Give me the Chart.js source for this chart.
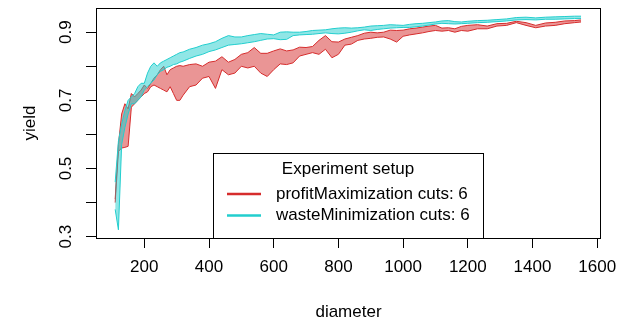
<!DOCTYPE html>
<html>
<head>
<meta charset="utf-8">
<script src="https://cdn.jsdelivr.net/npm/chart.js@4"></script>
<style>
  html, body { margin: 0; padding: 0; background: #fff; }
  #wrap { width: 629px; height: 324px; }
</style>
</head>
<body>
<div id="wrap"><canvas id="myChart" width="629" height="324"></canvas></div>
<script>
const diameter = [110,120,130,140,150,160,170,180,190,200,
  210,220,230,240,250,260,270,280,290,300,
  310,320,340,360,380,400,420,440,460,480,
  500,520,540,560,580,600,620,640,660,680,
  700,720,740,760,780,800,820,840,860,880,
  900,920,940,960,980,1000,1020,1040,1060,1080,
  1100,1120,1140,1160,1180,1200,1230,1260,1290,1320,
  1350,1380,1410,1440,1470,1500,1530,1550];

const wasteLow = [0.38,0.32,0.57,0.62,0.66,0.69,0.69,0.70,0.71,0.73,
  0.74,0.75,0.76,0.775,0.785,0.79,0.797,0.80,0.805,0.807,
  0.812,0.815,0.823,0.83,0.835,0.843,0.848,0.855,0.862,0.864,
  0.866,0.869,0.872,0.876,0.88,0.881,0.878,0.879,0.89,0.892,
  0.893,0.894,0.896,0.898,0.896,0.895,0.897,0.90,0.904,0.907,
  0.905,0.908,0.91,0.912,0.913,0.914,0.914,0.916,0.918,0.921,
  0.924,0.926,0.925,0.924,0.925,0.926,0.928,0.929,0.931,0.933,
  0.936,0.937,0.936,0.938,0.938,0.939,0.94,0.94];

const wasteHigh = [0.46,0.58,0.63,0.67,0.70,0.71,0.72,0.74,0.75,0.75,
  0.78,0.80,0.81,0.80,0.81,0.815,0.82,0.825,0.83,0.835,
  0.84,0.842,0.85,0.855,0.862,0.866,0.872,0.882,0.89,0.886,
  0.886,0.89,0.893,0.896,0.894,0.892,0.90,0.901,0.90,0.90,
  0.902,0.905,0.906,0.907,0.91,0.912,0.913,0.912,0.913,0.915,
  0.918,0.919,0.92,0.922,0.921,0.92,0.923,0.925,0.926,0.928,
  0.93,0.933,0.934,0.931,0.93,0.932,0.934,0.935,0.937,0.939,
  0.943,0.944,0.942,0.944,0.945,0.946,0.947,0.947];

const profitLow = [0.40,0.55,0.56,0.562,0.565,0.68,0.69,0.70,0.71,0.72,
  0.725,0.74,0.745,0.74,0.735,0.73,0.725,0.74,0.72,0.70,
  0.70,0.715,0.74,0.745,0.765,0.77,0.735,0.79,0.775,0.78,
  0.80,0.795,0.80,0.78,0.77,0.79,0.807,0.805,0.81,0.83,
  0.835,0.84,0.835,0.85,0.825,0.835,0.862,0.865,0.876,0.88,
  0.882,0.885,0.886,0.88,0.871,0.888,0.892,0.895,0.898,0.902,
  0.905,0.903,0.905,0.90,0.905,0.903,0.91,0.91,0.918,0.92,
  0.928,0.92,0.913,0.918,0.92,0.925,0.928,0.93];

const profitHigh = [0.41,0.57,0.66,0.69,0.675,0.72,0.71,0.72,0.73,0.745,
  0.735,0.75,0.765,0.775,0.79,0.80,0.775,0.79,0.795,0.80,
  0.802,0.80,0.805,0.807,0.80,0.812,0.815,0.828,0.812,0.82,
  0.835,0.84,0.855,0.838,0.838,0.845,0.851,0.845,0.848,0.856,
  0.855,0.858,0.876,0.89,0.872,0.871,0.88,0.885,0.89,0.897,
  0.90,0.898,0.90,0.906,0.905,0.906,0.91,0.912,0.915,0.918,
  0.92,0.912,0.913,0.91,0.917,0.92,0.922,0.918,0.925,0.926,
  0.932,0.928,0.92,0.927,0.929,0.933,0.934,0.936];

const xTicks = [200,400,600,800,1000,1200,1400,1600];
const yTicks = [0.3,0.4,0.5,0.6,0.7,0.8,0.9];
const yLabels = [0.3,0.5,0.7,0.9];

const legendTitle = "Experiment setup";
const seriesNames = ["profitMaximization cuts: 6", "wasteMinimization cuts: 6"];

const red = "rgb(214,44,44)";
const redFill = "rgba(214,44,44,0.5)";
const cyan = "rgb(34,206,206)";
const cyanFill = "rgba(34,206,206,0.5)";
const FONT = '"Liberation Sans", Arial, sans-serif';

const ctx = document.getElementById("myChart");

function pts(arr) {
  return diameter.map((d, i) => ({ x: d, y: arr[i] }));
}

function linea(label, arr, color, fillColor) {
  return {
    label: label,
    data: pts(arr),
    borderColor: color,
    backgroundColor: fillColor || color,
    borderWidth: 1,
    pointRadius: 0,
    tension: 0,
    fill: fillColor ? "-1" : false,
  };
}

// ejes al estilo R: caja, etiquetas rotadas, titulos y leyenda
const rStyle = {
  id: "rStyle",
  afterDraw(chart) {
    const c = chart.ctx;
    const a = chart.chartArea;
    const ys = chart.scales.y;
    c.save();
    c.fillStyle = "#000";
    c.font = "17px " + FONT;
    c.textAlign = "center";
    c.textBaseline = "middle";

    yLabels.forEach((v) => {
      c.save();
      c.translate(66, ys.getPixelForValue(v));
      c.rotate(-Math.PI / 2);
      c.fillText(v.toFixed(1), 0, 0);
      c.restore();
    });

    c.save();
    c.translate(30, (a.top + a.bottom) / 2);
    c.rotate(-Math.PI / 2);
    c.fillText("yield", 0, 0);
    c.restore();

    c.fillText("diameter", (a.left + a.right) / 2, 312);

    // leyenda (recortada al area del grafico)
    c.save();
    c.beginPath();
    c.rect(a.left, a.top, a.right - a.left, a.bottom - a.top);
    c.clip();
    c.fillStyle = "#fff";
    c.fillRect(213, 153, 270, 100);
    c.strokeStyle = "#000";
    c.lineWidth = 1;
    c.strokeRect(213.5, 153.5, 270, 100);
    c.restore();

    c.fillStyle = "#000";
    c.fillText(legendTitle, 348, 169);
    c.textAlign = "left";
    [red, cyan].forEach((col, i) => {
      const y = 194 + i * 21.5;
      c.strokeStyle = col;
      c.lineWidth = 2.5;
      c.beginPath();
      c.moveTo(227, y);
      c.lineTo(261, y);
      c.stroke();
      c.fillText(seriesNames[i], 276, y);
    });

    c.strokeStyle = "#000";
    c.lineWidth = 1;
    c.strokeRect(a.left + 0.5, a.top + 0.5, a.right - a.left - 1, a.bottom - a.top);
    c.restore();
  },
};

const chart = new Chart(ctx, {
  type: "line",
  data: {
    datasets: [
      linea("wasteMin", wasteLow, cyan),
      linea("wasteMax", wasteHigh, cyan, cyanFill),
      linea("profitMin", profitLow, red),
      linea("profitMax", profitHigh, red, redFill),
    ],
  },
  options: {
    responsive: false,
    animation: false,
    layout: { padding: { top: 8, right: 28, left: 0, bottom: 0 } },
    plugins: { legend: { display: false }, tooltip: { enabled: false } },
    scales: {
      x: {
        type: "linear",
        bounds: "data",
        min: 50.7,
        max: 1611.7,
        afterBuildTicks: (s) => { s.ticks = xTicks.map((v) => ({ value: v })); },
        afterFit: (s) => { s.height = 86; },
        ticks: {
          callback: (v) => String(v),
          color: "#000", font: { size: 17, family: FONT }, padding: 9, maxRotation: 0, autoSkip: false,
        },
        grid: { drawOnChartArea: false, drawTicks: true, tickLength: 10, color: "#000", lineWidth: 1 },
        border: { display: false },
      },
      y: {
        type: "linear",
        bounds: "data",
        min: 0.296,
        max: 0.971,
        afterBuildTicks: (s) => { s.ticks = yTicks.map((v) => ({ value: v })); },
        afterFit: (s) => { s.width = 96; },
        ticks: { callback: () => "", padding: 0 },
        grid: { drawOnChartArea: false, drawTicks: true, tickLength: 10, color: "#000", lineWidth: 1 },
        border: { display: false },
      },
    },
  },
  plugins: [rStyle],
});
</script>
</body>
</html>
